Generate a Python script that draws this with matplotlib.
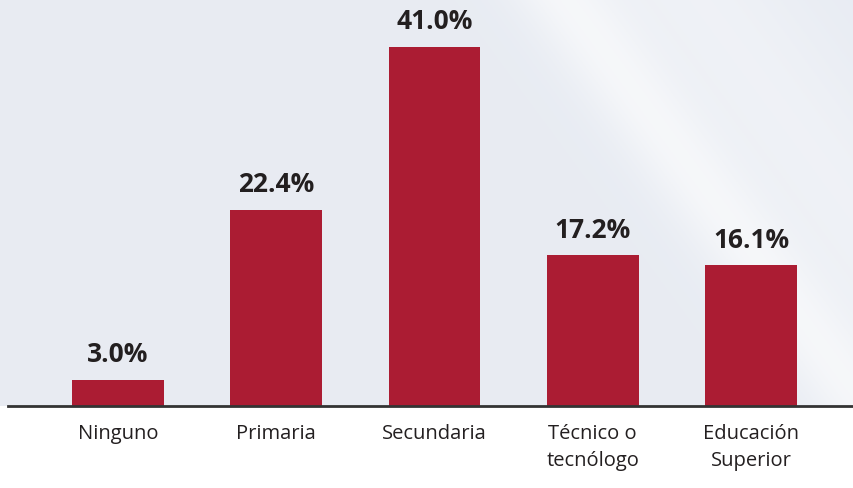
import numpy as np
import matplotlib
matplotlib.use("Agg")
import matplotlib.pyplot as plt

categories = ["Ninguno", "Primaria", "Secundaria", "Técnico o\ntecnólogo", "Educación\nSuperior"]
values = [3.0, 22.4, 41.0, 17.2, 16.1]
value_labels = ["3.0%", "22.4%", "41.0%", "17.2%", "16.1%"]

plt.rcParams["font.family"] = ["Open Sans", "DejaVu Sans"]

fig = plt.figure(figsize=(8.54, 4.89), dpi=100, facecolor="white")

# soft grey background with a light diagonal streak (decorative only)
bg = fig.add_axes([0, (489 - 407) / 489, 1, 407 / 489], zorder=0)
h, w = 200, 420
yy, xx = np.mgrid[0:h, 0:w]
u = xx / w - 0.35 * (yy / h)
base = np.array([0.910, 0.925, 0.952])
light = np.array([0.965, 0.970, 0.980])
streak = np.exp(-((u - 0.66) / 0.06) ** 2) * 0.9 + np.exp(-((u - 0.82) / 0.12) ** 2) * 0.5
streak = np.clip(streak, 0, 1)[..., None]
img = base * (1 - streak) + light * streak
bg.imshow(img, extent=[0, 1, 0, 1], aspect="auto")
bg.set_axis_off()

# axes from pixel x=8 to 854, baseline at y=407 px from top
ax = fig.add_axes([8 / 854, (489 - 407) / 489, 846 / 854, 407 / 489], zorder=1)
ax.patch.set_visible(False)

x = np.arange(len(categories))
ax.bar(x, values, width=0.58, color="#AB1C33", zorder=2)
for xi, v, lab in zip(x, values, value_labels):
    ax.annotate(lab, (xi, v), xytext=(0, 9), textcoords="offset points",
                ha="center", va="bottom", fontsize=19, fontweight="bold", color="#231F20")

ax.set_xlim(-0.695, 4.651)
ax.set_ylim(0, 46.48)
ax.set_xticks(x)
ax.set_xticklabels(categories, fontsize=14.5, color="#231F20", linespacing=1.5, va="top")
ax.tick_params(axis="x", length=0, pad=12)
ax.set_yticks([])
for s in ["top", "right", "left"]:
    ax.spines[s].set_visible(False)
ax.spines["bottom"].set_color("#333333")
ax.spines["bottom"].set_linewidth(2)
ax.spines["bottom"].set_zorder(3)

fig.savefig("out.png", dpi=100, facecolor="white")
